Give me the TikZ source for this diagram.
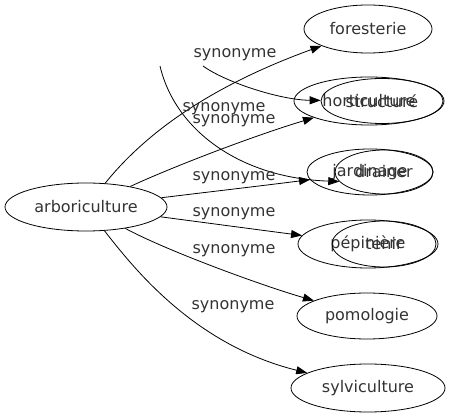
\documentclass[tikz,border=0pt]{standalone}
\usepackage{fontspec}
\setmainfont{DejaVu Sans}
\usetikzlibrary{shapes.geometric,arrows.meta}
\begin{document}
\begin{tikzpicture}[x=1pt,y=-1pt,
  every node/.style={font=\fontsize{16}{19}\selectfont, text=black!80},
  nd/.style={draw, ellipse, inner sep=0pt, line width=0.8pt},
  edge/.style={draw, line width=0.8pt, -{Triangle[length=11pt,width=8pt]}}]
\useasboundingbox (0,0) rectangle (449,419);
% nodes
\node[nd, minimum width=162pt, minimum height=48pt] (arb) at (86,207) {arboriculture};
\node[nd, minimum width=128pt, minimum height=48pt] (fore) at (368,29) {foresterie};
\node[nd, minimum width=150pt, minimum height=48pt] (hort) at (369,101) {horticulture};
\node[nd, minimum width=122pt, minimum height=45pt] (struct) at (382,101) {structuré};
\node[nd, minimum width=126pt, minimum height=46pt] (jard) at (370,172) {jardinage};
\node[nd, minimum width=98pt, minimum height=44pt] (drain) at (384,172) {drainer};
\node[nd, minimum width=140pt, minimum height=48pt] (pep) at (368,244) {pépinière};
\node[nd, minimum width=104pt, minimum height=46pt] (tenir) at (384,244) {tenir};
\node[nd, minimum width=140pt, minimum height=46pt] (pomo) at (367,316) {pomologie};
\node[nd, minimum width=154pt, minimum height=48pt] (sylv) at (368,388) {sylviculture};
% free ends
\coordinate (s1) at (203,66);
\coordinate (s2) at (160,66);
% edges
\draw[edge] (arb) .. controls (140,140) and (200,90) .. (fore);
\draw[edge] (arb) .. controls (170,168) and (250,137) .. (hort);
\draw[edge] (arb) .. controls (200,193) and (260,186) .. (jard);
\draw[edge] (arb) .. controls (200,222) and (260,230) .. (pep);
\draw[edge] (arb) .. controls (165,250) and (260,285) .. (pomo);
\draw[edge] (arb) .. controls (135,270) and (195,345) .. (sylv);
\draw[edge] (s1) .. controls (225,82) and (280,100) .. (struct);
\draw[edge] (s2) .. controls (175,130) and (240,178) .. (drain.192);
% labels
\node (l1) at (235,55) {synonyme};
\node (l2) at (224,109) {synonyme};
\node (l3) at (234,121) {synonyme};
\node (l4) at (234,178) {synonyme};
\node (l5) at (234,214) {synonyme};
\node (l6) at (234,251) {synonyme};
\node (l7) at (233,307) {synonyme};
\end{tikzpicture}
\end{document}
